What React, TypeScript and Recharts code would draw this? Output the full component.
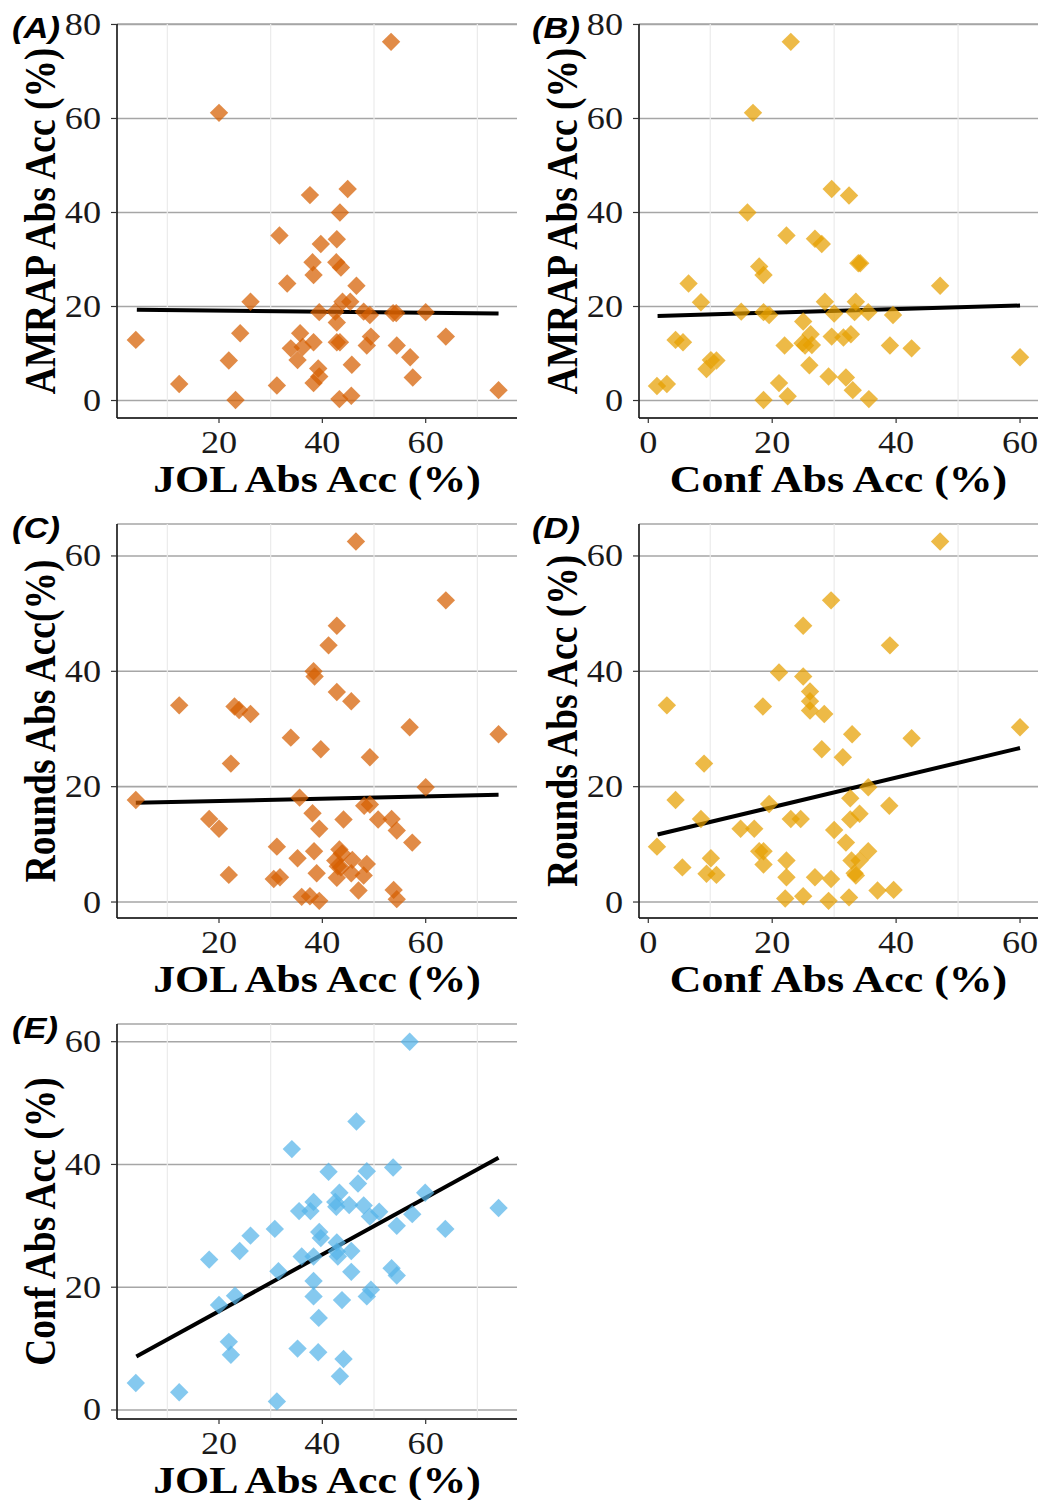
import React from 'react';
import { ScatterChart, Scatter, XAxis, YAxis, CartesianGrid, ReferenceLine, Label } from 'recharts';

type Pt = [number, number];

// (A) AMRAP absolute accuracy against JOL absolute accuracy
const amrapByJol: Pt[] = [
  [3.9, 12.9], [12.3, 3.5], [20.0, 61.2], [21.9, 8.5], [23.2, 0.1], [24.1, 14.3], [26.1, 21.0],
  [31.2, 3.2], [31.7, 35.1], [33.2, 24.9], [33.9, 11.1], [35.2, 8.6], [35.7, 14.3], [36.2, 11.4],
  [37.6, 43.7], [38.1, 29.4], [38.3, 26.7], [38.3, 12.4], [38.3, 3.7], [39.2, 6.8], [39.4, 5.1],
  [39.4, 18.8], [39.7, 33.3], [42.8, 34.3], [42.7, 29.4], [43.4, 40.0], [44.9, 45.0], [43.6, 28.3],
  [42.8, 16.6], [42.8, 12.4], [43.4, 12.4], [43.3, 0.3], [42.5, 18.9], [43.9, 21.0], [45.4, 21.0],
  [45.7, 7.6], [45.6, 1.0], [46.6, 24.4], [48.0, 18.9], [48.6, 11.7], [49.2, 18.2], [49.4, 13.6],
  [53.3, 76.3], [53.7, 18.6], [54.3, 18.6], [54.4, 11.7], [57.0, 9.2], [57.5, 4.9], [60.0, 18.8],
  [63.9, 13.6], [74.1, 2.2],
];

// (B) AMRAP absolute accuracy against confidence absolute accuracy
const amrapByConf: Pt[] = [
  [1.4, 3.1], [3.0, 3.5], [4.4, 12.9], [5.6, 12.4], [6.5, 24.9], [8.5, 20.9], [9.4, 6.7],
  [10.1, 8.6], [11.0, 8.5], [15.0, 18.9], [16.0, 40.0], [16.9, 61.2], [17.9, 28.5], [18.6, 26.7],
  [18.6, 18.8], [18.6, 0.1], [19.5, 18.2], [21.1, 3.7], [22.0, 11.7], [22.3, 35.1], [22.5, 0.9],
  [23.0, 76.3], [25.0, 16.8], [24.9, 12.2], [25.3, 11.7], [26.2, 14.1], [26.4, 11.8], [26.0, 7.5],
  [26.9, 34.4], [28.0, 33.3], [28.5, 21.0], [29.1, 5.1], [29.6, 45.0], [29.6, 13.6], [30.0, 18.5],
  [31.5, 13.4], [31.9, 4.9], [32.4, 43.6], [32.7, 14.1], [33.0, 2.2], [33.3, 18.8], [33.5, 21.0],
  [33.9, 29.2], [34.2, 29.2], [35.5, 18.8], [35.6, 0.3], [39.0, 11.7], [39.5, 18.2], [42.5, 11.1],
  [47.1, 24.4], [60.0, 9.2],
];

// (C) rounds absolute accuracy against JOL absolute accuracy
const roundsByJol: Pt[] = [
  [3.9, 17.7], [12.3, 34.1], [18.1, 14.4], [20.0, 12.7], [21.9, 4.7], [22.3, 24.0], [23.0, 33.9],
  [23.9, 33.3], [26.1, 32.6], [30.6, 4.0], [31.2, 9.6], [31.8, 4.3], [33.9, 28.5], [35.2, 7.6],
  [35.6, 18.1], [36.0, 0.9], [37.6, 1.0], [38.1, 15.4], [38.3, 40.0], [38.5, 39.1], [38.4, 8.8],
  [38.9, 5.0], [39.4, 0.2], [39.4, 12.7], [39.7, 26.5], [41.2, 44.5], [42.8, 47.9], [42.8, 36.4],
  [42.5, 7.2], [42.8, 4.2], [43.0, 6.2], [43.3, 9.1], [43.8, 8.4], [44.1, 14.3], [43.6, 6.0],
  [45.6, 34.8], [45.6, 5.0], [45.8, 7.3], [46.5, 62.5], [47.0, 2.0], [48.1, 16.7], [48.6, 6.6],
  [48.0, 4.6], [49.2, 16.9], [49.2, 25.1], [50.8, 14.3], [53.4, 14.4], [53.8, 2.1], [54.4, 12.4],
  [54.4, 0.5], [56.9, 30.3], [57.4, 10.3], [60.0, 19.9], [63.9, 52.3], [74.1, 29.1],
];

// (D) rounds absolute accuracy against confidence absolute accuracy
const roundsByConf: Pt[] = [
  [1.4, 9.6], [3.0, 34.1], [4.4, 17.7], [5.5, 6.0], [8.5, 14.4], [9.0, 24.0], [9.4, 4.9],
  [10.1, 7.6], [11.0, 4.7], [14.9, 12.7], [17.1, 12.7], [17.9, 8.8], [18.6, 8.8], [18.5, 33.9],
  [18.6, 6.5], [19.5, 17.0], [21.1, 39.8], [22.3, 7.2], [22.1, 0.6], [22.3, 4.3], [23.0, 14.4],
  [24.6, 14.4], [25.0, 47.9], [25.0, 39.1], [25.0, 1.0], [26.1, 36.5], [26.1, 34.8], [26.1, 33.2],
  [26.9, 4.3], [28.0, 26.5], [28.4, 32.6], [29.1, 0.2], [29.5, 52.3], [29.5, 4.0], [30.0, 12.5],
  [31.4, 25.1], [31.9, 10.3], [32.4, 0.8], [32.6, 18.0], [32.6, 14.3], [32.8, 7.2], [32.9, 29.1],
  [33.3, 5.0], [33.5, 4.6], [34.1, 7.2], [34.1, 15.3], [35.5, 8.8], [35.5, 19.9], [37.0, 2.0],
  [38.9, 16.7], [39.0, 44.5], [39.6, 2.1], [42.5, 28.4], [47.1, 62.5], [60.0, 30.3],
];

// (E) confidence absolute accuracy against JOL absolute accuracy
const confByJol: Pt[] = [
  [3.9, 4.4], [12.3, 2.9], [18.1, 24.5], [20.0, 17.1], [21.9, 11.1], [22.3, 9.0], [23.1, 18.6],
  [24.0, 25.9], [26.1, 28.4], [30.8, 29.5], [31.2, 1.4], [31.5, 22.6], [34.1, 42.5], [35.2, 10.0],
  [35.5, 32.4], [36.0, 25.0], [37.7, 32.4], [38.3, 33.9], [38.3, 25.0], [38.3, 21.0], [38.3, 18.5],
  [39.2, 9.4], [39.3, 15.0], [39.4, 29.0], [39.7, 28.0], [41.2, 38.8], [42.5, 33.9], [42.7, 33.1],
  [42.8, 27.3], [42.8, 25.8], [43.0, 25.0], [43.3, 35.4], [43.4, 5.5], [43.8, 17.9], [44.1, 8.3],
  [45.2, 33.4], [45.6, 25.9], [45.6, 22.5], [46.6, 47.0], [46.9, 36.9], [48.0, 33.3], [48.6, 38.9],
  [48.6, 18.5], [49.2, 31.5], [49.4, 19.6], [51.0, 32.3], [53.4, 23.1], [53.7, 39.5], [54.4, 21.9],
  [54.4, 30.0], [56.9, 60.0], [57.4, 31.9], [59.9, 35.4], [63.8, 29.5], [74.1, 32.9],
];

// Linear fit lines, start and end point of each
const fitAmrapJol: Pt[] = [[4.1, 19.3], [74.1, 18.5]];
const fitAmrapConf: Pt[] = [[1.5, 18.0], [60.0, 20.2]];
const fitRoundsJol: Pt[] = [[3.9, 17.2], [74.1, 18.6]];
const fitRoundsConf: Pt[] = [[1.5, 11.7], [60.0, 26.7]];
const fitConfJol: Pt[] = [[4.0, 8.7], [74.1, 41.1]];

// Tick values
const jolTicks = [20, 40, 60];
const jolMinor = [10, 30, 50, 70];
const confTicks = [0, 20, 40, 60];
const confMinor = [10, 30, 50];
const amrapTicks = [0, 20, 40, 60, 80];
const roundsTicks = [0, 20, 40, 60];

const SERIF = '"Liberation Serif", "Times New Roman", Times, serif';
const SANS = '"Liberation Sans", Arial, Helvetica, sans-serif';
const STRETCH = 1.17;
const TITLE_SIZE = 37.5;

const ORANGE = '#D55E00';
const AMBER = '#E69F00';
const SKY = '#56B4E9';

type PanelSpec = {
  tag: string;
  points: Pt[];
  fit: Pt[];
  color: string;
  xDomain: [number, number];
  xTicks: number[];
  xMinor: number[];
  yDomain: [number, number];
  yTicks: number[];
  xTitle: string;
  yTitle: string;
  left: number;
  top: number;
  width: number;
  yAxisWidth: number;
  xAxisHeight: number;
  marginRight: number;
};

const JOL_DOMAIN: [number, number] = [0.26, 77.67];
const CONF_DOMAIN: [number, number] = [-1.5, 62.9];

const panels: PanelSpec[] = [
  {
    tag: '(A)', points: amrapByJol, fit: fitAmrapJol, color: ORANGE,
    xDomain: JOL_DOMAIN, xTicks: jolTicks, xMinor: jolMinor,
    yDomain: [-3.72, 80.1], yTicks: amrapTicks,
    xTitle: 'JOL Abs Acc (%)', yTitle: 'AMRAP Abs Acc (%)',
    left: 0, top: 0, width: 520, yAxisWidth: 117, xAxisHeight: 82, marginRight: 3,
  },
  {
    tag: '(B)', points: amrapByConf, fit: fitAmrapConf, color: AMBER,
    xDomain: CONF_DOMAIN, xTicks: confTicks, xMinor: confMinor,
    yDomain: [-3.72, 80.1], yTicks: amrapTicks,
    xTitle: 'Conf Abs Acc (%)', yTitle: 'AMRAP Abs Acc (%)',
    left: 520, top: 0, width: 522, yAxisWidth: 119, xAxisHeight: 82, marginRight: 4,
  },
  {
    tag: '(C)', points: roundsByJol, fit: fitRoundsJol, color: ORANGE,
    xDomain: JOL_DOMAIN, xTicks: jolTicks, xMinor: jolMinor,
    yDomain: [-2.77, 65.54], yTicks: roundsTicks,
    xTitle: 'JOL Abs Acc (%)', yTitle: 'Rounds Abs Acc(%)',
    left: 0, top: 500, width: 520, yAxisWidth: 117, xAxisHeight: 82, marginRight: 3,
  },
  {
    tag: '(D)', points: roundsByConf, fit: fitRoundsConf, color: AMBER,
    xDomain: CONF_DOMAIN, xTicks: confTicks, xMinor: confMinor,
    yDomain: [-2.77, 65.54], yTicks: roundsTicks,
    xTitle: 'Conf Abs Acc (%)', yTitle: 'Rounds Abs Acc (%)',
    left: 520, top: 500, width: 522, yAxisWidth: 119, xAxisHeight: 82, marginRight: 4,
  },
  {
    tag: '(E)', points: confByJol, fit: fitConfJol, color: SKY,
    xDomain: JOL_DOMAIN, xTicks: jolTicks, xMinor: jolMinor,
    yDomain: [-1.47, 62.88], yTicks: roundsTicks,
    xTitle: 'JOL Abs Acc (%)', yTitle: 'Conf Abs Acc (%)',
    left: 0, top: 1000, width: 520, yAxisWidth: 117, xAxisHeight: 81, marginRight: 3,
  },
];

const XTick = (props: any) => {
  const { x, y, payload } = props;
  return (
    <g transform={`translate(${x},${y}) scale(${STRETCH},1)`}>
      <text x={0} y={21} textAnchor="middle" fontFamily={SERIF} fontSize={31} fill="#1a1a1a">
        {payload.value}
      </text>
    </g>
  );
};

const YTick = (props: any) => {
  const { x, y, payload } = props;
  return (
    <g transform={`translate(${x},${y}) scale(${STRETCH},1)`}>
      <text x={0} y={10.5} textAnchor="end" fontFamily={SERIF} fontSize={31} fill="#1a1a1a">
        {payload.value}
      </text>
    </g>
  );
};

const Diamond = ({ cx, cy, color }: { cx?: number; cy?: number; color: string }) => {
  if (cx == null || cy == null) return null;
  const r = 9.2;
  return (
    <path
      d={`M${cx},${cy - r}L${cx + r},${cy}L${cx},${cy + r}L${cx - r},${cy}Z`}
      fill={color}
      fillOpacity={0.72}
    />
  );
};

function Panel({ spec }: { spec: PanelSpec }) {
  const rows = spec.points.map(([x, y]) => ({ x, y }));
  const height = 500;
  const marginTop = 24;

  const xTitle = (p: any) => {
    const vb = p.viewBox || {};
    const cx = vb.x + vb.width / 2;
    const by = vb.y + 74;
    return (
      <g transform={`translate(${cx},${by}) scale(1.17,1)`}>
        <text x={0} y={0} textAnchor="middle" fontFamily={SERIF} fontWeight="bold" fontSize={TITLE_SIZE} fill="#000">
          {spec.xTitle}
        </text>
      </g>
    );
  };

  const yTitle = (p: any) => {
    const vb = p.viewBox || {};
    const bx = vb.x + vb.width - 62.5;
    const cy = vb.y + vb.height / 2;
    return (
      <g>
        <g transform={`translate(${bx},${cy}) scale(1.2,1) rotate(-90)`}>
          <text x={0} y={0} textAnchor="middle" fontFamily={SERIF} fontWeight="bold" fontSize={TITLE_SIZE} fill="#000">
            {spec.yTitle}
          </text>
        </g>
        <g transform={`translate(${vb.x + 12},${marginTop + 14}) scale(1.15,1)`}>
          <text x={0} y={0} fontFamily={SANS} fontWeight="bold" fontStyle="italic" fontSize={30} fill="#000">
            {spec.tag}
          </text>
        </g>
      </g>
    );
  };

  return (
    <div style={{ position: 'absolute', left: spec.left, top: spec.top, width: spec.width, height }}>
      <ScatterChart
        width={spec.width}
        height={height}
        margin={{ top: marginTop, right: spec.marginRight, bottom: 0, left: 0 }}
      >
        <CartesianGrid vertical={false} stroke="#a6a6a6" strokeWidth={1.6} />
        {spec.xMinor.map((v) => (
          <ReferenceLine key={`minor-${v}`} x={v} stroke="#ebebeb" strokeWidth={1.2} />
        ))}
        <XAxis
          type="number"
          dataKey="x"
          domain={spec.xDomain}
          allowDataOverflow
          ticks={spec.xTicks}
          interval={0}
          height={spec.xAxisHeight}
          tick={XTick}
          tickSize={5}
          tickMargin={9}
          axisLine={{ stroke: '#111', strokeWidth: 1.6 }}
          tickLine={{ stroke: '#333', strokeWidth: 1.2 }}
        >
          <Label content={xTitle} />
        </XAxis>
        <YAxis
          type="number"
          dataKey="y"
          domain={spec.yDomain}
          allowDataOverflow
          ticks={spec.yTicks}
          interval={0}
          width={spec.yAxisWidth}
          tick={YTick}
          tickSize={6}
          tickMargin={10}
          axisLine={{ stroke: '#111', strokeWidth: 1.6 }}
          tickLine={{ stroke: '#333', strokeWidth: 1.2 }}
        >
          <Label content={yTitle} />
        </YAxis>
        <Scatter
          data={rows}
          isAnimationActive={false}
          shape={(p: any) => <Diamond cx={p.cx} cy={p.cy} color={spec.color} />}
        />
        <ReferenceLine
          segment={spec.fit.map(([x, y]) => ({ x, y }))}
          stroke="#000"
          strokeWidth={4}
        />
      </ScatterChart>
    </div>
  );
}

export default function App() {
  return (
    <div style={{ position: 'absolute', left: 0, top: 0, width: 1042, height: 1500, background: '#fff' }}>
      {panels.map((spec) => (
        <Panel key={spec.tag} spec={spec} />
      ))}
    </div>
  );
}
